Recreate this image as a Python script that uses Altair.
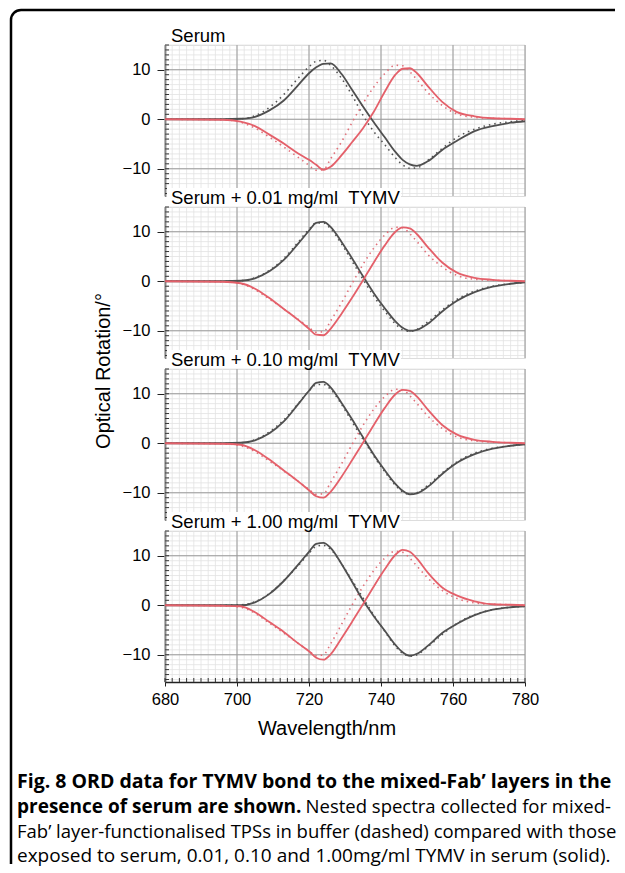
import math
import altair as alt
import pandas as pd

# ---------------- data ----------------
WL = [680, 696, 701, 705, 709, 713, 717, 720, 722, 724, 726, 729, 732, 735,
      738, 741, 744, 746, 748, 750, 753, 757, 761, 766, 771, 776, 780]

PANEL_TITLES = ["Serum",
                "Serum + 0.01 mg/ml\u00a0\u00a0TYMV",
                "Serum + 0.10 mg/ml\u00a0\u00a0TYMV",
                "Serum + 1.00 mg/ml\u00a0\u00a0TYMV"]

# panel 1 : Serum
P1_BLACK_SOLID = [0, 0, 0.1, 0.5, 1.8, 3.8, 6.9, 9.3, 10.5, 11.2, 11.3, 9.2, 5.9, 2.6,
                  -0.6, -3.6, -6.6, -8.2, -9.1, -9.4, -8.5, -6.2, -4.4, -2.4, -1.4, -0.7, -0.4]
P1_BLACK_DOT = [0, 0, 0.1, 0.7, 2.4, 5.0, 8.3, 10.6, 11.7, 11.9, 10.9, 8.3, 4.8, 0.8,
                -2.5, -5.1, -7.8, -9.2, -9.9, -9.8, -8.3, -5.9, -3.7, -2.0, -1.0, -0.5, -0.2]
P1_RED_SOLID = [0, -0.1, -0.5, -1.4, -3.1, -4.9, -6.9, -8.2, -9.2, -10.2, -9.6, -7.3, -4.6, -1.8,
                1.5, 5.5, 9.0, 10.2, 10.3, 9.3, 6.7, 3.5, 1.5, 0.6, 0.2, 0.1, 0]
P1_RED_DOT = [0, -0.1, -0.6, -1.8, -3.6, -5.6, -7.7, -9.3, -10.3, -10.2, -8.0, -4.6, -0.6, 3.2,
              6.5, 9.2, 10.9, 10.8, 9.6, 8.0, 5.4, 2.8, 1.1, 0.4, 0.2, 0.1, 0]

# panel 2 : Serum + 0.01 mg/ml TYMV
P2_BLACK_SOLID = [0, 0, 0.1, 0.6, 2.0, 4.3, 7.6, 10.2, 11.8, 12.0, 11.0, 8.0, 4.6, 1.0,
                  -2.4, -5.4, -8.1, -9.4, -10.0, -9.8, -8.6, -6.1, -4.0, -2.2, -1.1, -0.5, -0.2]
P2_BLACK_DOT = [0, 0, 0.1, 0.7, 2.2, 4.6, 7.9, 10.5, 11.8, 11.8, 10.6, 7.6, 4.0, 0.4,
                -3.0, -6.0, -8.6, -9.8, -10.1, -9.7, -8.2, -5.8, -3.7, -2.0, -1.0, -0.5, -0.2]
P2_RED_SOLID = [0, -0.1, -0.4, -1.5, -3.4, -5.6, -7.8, -9.6, -10.8, -10.9, -9.6, -6.6, -3.3, 0.2,
                3.8, 7.2, 10.0, 10.9, 10.7, 9.5, 6.9, 3.8, 1.8, 0.7, 0.3, 0.1, 0]
P2_RED_DOT = [0, -0.1, -0.5, -1.7, -3.6, -5.6, -7.7, -9.3, -10.3, -10.2, -8.0, -4.4, -0.4, 3.4,
              6.7, 9.3, 10.9, 10.8, 9.6, 8.0, 5.4, 2.9, 1.2, 0.4, 0.2, 0.1, 0]

# panel 3 : Serum + 0.10 mg/ml TYMV
P3_BLACK_SOLID = [0, 0, 0.1, 0.6, 2.0, 4.4, 7.9, 10.6, 12.2, 12.4, 11.3, 8.2, 4.8, 1.2,
                  -2.3, -5.4, -8.2, -9.6, -10.3, -10.1, -8.8, -6.2, -4.0, -2.2, -1.1, -0.5, -0.2]
P3_BLACK_DOT = [0, 0, 0.1, 0.7, 2.3, 4.7, 8.0, 10.6, 11.8, 11.9, 10.9, 7.9, 4.3, 0.8,
                -2.6, -5.7, -8.5, -9.8, -10.3, -10.0, -8.5, -6.0, -3.8, -2.0, -1.0, -0.5, -0.2]
P3_RED_SOLID = [0, -0.1, -0.3, -1.4, -3.3, -5.5, -7.7, -9.5, -10.7, -11.0, -9.8, -6.8, -3.4, 0.1,
                3.7, 7.1, 9.9, 10.8, 10.6, 9.4, 6.8, 3.7, 1.8, 0.7, 0.3, 0.1, 0]
P3_RED_DOT = [0, -0.1, -0.5, -1.7, -3.6, -5.6, -7.7, -9.3, -10.3, -10.2, -7.9, -4.2, -0.2, 3.6,
              6.9, 9.4, 10.9, 10.8, 9.6, 8.0, 5.5, 3.0, 1.3, 0.5, 0.2, 0.1, 0]

# panel 4 : Serum + 1.00 mg/ml TYMV
P4_BLACK_SOLID = [0, 0, 0.0, 0.6, 2.3, 4.9, 8.2, 10.8, 12.4, 12.6, 11.6, 8.4, 4.7, 1.0,
                  -2.2, -5.1, -8.0, -9.5, -10.2, -9.8, -8.2, -5.6, -3.8, -2.0, -0.9, -0.4, -0.2]
P4_BLACK_DOT = [0, 0, 0.1, 0.7, 2.4, 5.0, 8.0, 10.5, 11.9, 12.1, 11.3, 8.4, 5.0, 1.5,
                -2.0, -5.2, -8.3, -9.7, -10.3, -10.0, -8.4, -5.9, -3.7, -1.9, -0.9, -0.4, -0.2]
P4_RED_SOLID = [0, -0.1, -0.2, -1.4, -3.4, -5.4, -7.7, -9.3, -10.6, -11.0, -9.9, -6.7, -3.3, 0.2,
                3.8, 7.2, 10.2, 11.2, 10.8, 9.4, 6.6, 3.6, 2.0, 0.8, 0.2, 0.1, 0]
P4_RED_DOT = [0, -0.1, -0.4, -1.6, -3.6, -5.6, -7.7, -9.2, -10.2, -10.0, -7.8, -3.9, 0.1, 3.8,
              7.0, 9.5, 10.9, 10.7, 9.5, 7.9, 5.5, 3.0, 1.4, 0.5, 0.2, 0.1, 0]

SERIES = {
    0: {"black_dot": P1_BLACK_DOT, "red_dot": P1_RED_DOT, "black": P1_BLACK_SOLID, "red": P1_RED_SOLID},
    1: {"black_dot": P2_BLACK_DOT, "red_dot": P2_RED_DOT, "black": P2_BLACK_SOLID, "red": P2_RED_SOLID},
    2: {"black_dot": P3_BLACK_DOT, "red_dot": P3_RED_DOT, "black": P3_BLACK_SOLID, "red": P3_RED_SOLID},
    3: {"black_dot": P4_BLACK_DOT, "red_dot": P4_RED_DOT, "black": P4_BLACK_SOLID, "red": P4_RED_SOLID},
}

X_MAJOR = [680, 700, 720, 740, 760, 780]
X_MINOR = list(range(680, 781, 2))
Y_MAJOR = [-10, 0, 10]
Y_MINOR = list(range(-15, 16, 1))

X_TITLE = "Wavelength/nm"
Y_TITLE = "Optical Rotation/°"

CAPTION_1 = "Fig. 8 ORD data for TYMV bond to the mixed-Fab\u2019 layers in the"
CAPTION_2B = "presence of serum are shown."
CAPTION_2R = "Nested spectra collected for mixed-"
CAPTION_3 = "Fab\u2019 layer-functionalised TPSs in buffer (dashed) compared with those"
CAPTION_4 = "exposed to serum, 0.01, 0.10 and 1.00mg/ml TYMV in serum (solid)."

# ---------------- style ----------------
W, H = 360, 151
FONT = "Liberation Sans"
CAP_FONT = "Open Sans"
STYLE = {
    "black_dot": dict(color="#555555", strokeWidth=1.6, strokeDash=[1.5, 4]),
    "red_dot": dict(color="#e0707a", strokeWidth=1.6, strokeDash=[1.5, 4]),
    "black": dict(color="#4f4f4f", strokeWidth=1.8),
    "red": dict(color="#e4606a", strokeWidth=1.8),
}

xs = alt.Scale(domain=[680, 780], nice=False, zero=False)
ys = alt.Scale(domain=[-15.5, 15], nice=False, zero=False)

one = pd.DataFrame({"k": [0]})


def x_axis(bottom):
    return alt.Axis(values=X_MAJOR, title=None, grid=False, labels=bottom, ticks=bottom,
                    domain=bottom, tickSize=4, labelPadding=5, labelFontSize=16.5,
                    labelFont=FONT, labelColor="black", domainColor="#222222",
                    tickColor="#222222", domainWidth=1.5, labelFlush=False)


def y_axis():
    return alt.Axis(values=Y_MAJOR, title=None, grid=False, tickSize=8, labelPadding=7,
                    labelFontSize=16.5, labelFont=FONT, labelColor="black",
                    domainColor="#222222", tickColor="#222222", domainWidth=1.5,
                    labelExpr="datum.value < 0 ? '\u2212' + abs(datum.value) : datum.label")


def text_layer(txt, x, y, size, weight="normal", align="left", angle=0, font=FONT):
    return alt.Chart(pd.DataFrame({"t": [txt]})).mark_text(
        align=align, baseline="middle", fontSize=size, fontWeight=weight,
        font=font, angle=angle, color="black"
    ).encode(text="t:N", x=alt.value(x), y=alt.value(y))


def make_panel(i):
    bottom = i == 3
    XA = x_axis(bottom)
    YA = y_axis()
    layers = []
    # grid
    layers.append(alt.Chart(pd.DataFrame({"v": X_MINOR})).mark_rule(color="#e2e2e2", strokeWidth=0.8)
                  .encode(x=alt.X("v:Q", scale=xs, axis=XA)))
    layers.append(alt.Chart(pd.DataFrame({"v": Y_MINOR})).mark_rule(color="#e2e2e2", strokeWidth=0.8)
                  .encode(y=alt.Y("v:Q", scale=ys, axis=YA)))
    layers.append(alt.Chart(pd.DataFrame({"v": X_MAJOR})).mark_rule(color="#9a9a9a", strokeWidth=1)
                  .encode(x=alt.X("v:Q", scale=xs, axis=XA)))
    layers.append(alt.Chart(pd.DataFrame({"v": Y_MAJOR})).mark_rule(color="#9a9a9a", strokeWidth=1)
                  .encode(y=alt.Y("v:Q", scale=ys, axis=YA)))
    # inner minor ticks
    layers.append(alt.Chart(pd.DataFrame({"v": Y_MINOR})).mark_rule(color="#333333", strokeWidth=1)
                  .encode(y=alt.Y("v:Q", scale=ys, axis=YA), x=alt.value(0), x2=alt.value(4)))
    if bottom:
        layers.append(alt.Chart(pd.DataFrame({"v": X_MINOR})).mark_rule(color="#333333", strokeWidth=1)
                      .encode(x=alt.X("v:Q", scale=xs, axis=XA), y=alt.value(H - 4), y2=alt.value(H)))
    # curves
    for key in ["black_dot", "red_dot", "black", "red"]:
        d = pd.DataFrame({"wl": WL, "val": SERIES[i][key]})
        layers.append(alt.Chart(d).mark_line(interpolate="monotone", **STYLE[key]).encode(
            x=alt.X("wl:Q", scale=xs, axis=XA),
            y=alt.Y("val:Q", scale=ys, axis=YA)))
    # panel title with white backing
    tw = 58 if i == 0 else 236
    layers.append(alt.Chart(one).mark_rect(color="white").encode(
        x=alt.value(2), x2=alt.value(tw), y=alt.value(-19), y2=alt.value(-1)))
    layers.append(text_layer(PANEL_TITLES[i], 6, -9.5, 18.5))

    if i == 0:
        # figure border (rounded upper-left corner)
        layers.append(alt.Chart(one).mark_rule(color="black", strokeWidth=2.5).encode(
            x=alt.value(-144), x2=alt.value(450), y=alt.value(-35)))
        layers.append(alt.Chart(one).mark_rule(color="black", strokeWidth=2.5).encode(
            x=alt.value(-154), y=alt.value(-25), y2=alt.value(819)))
        layers.append(alt.Chart(one).mark_arc(color="black", radius=11.25, radius2=8.75,
                                              theta=3 * math.pi / 2, theta2=2 * math.pi).encode(
            x=alt.value(-144), y=alt.value(-25)))
    if i == 1:
        layers.append(text_layer(Y_TITLE, -61, 164, 20, align="center", angle=270))
    if bottom:
        layers.append(text_layer(X_TITLE, 162, 198, 20, align="center"))
        layers.append(text_layer(CAPTION_1, -148, 251, 19.5, weight="bold", font=CAP_FONT))
        layers.append(text_layer(CAPTION_2B, -148, 276, 19, weight="bold", font=CAP_FONT))
        layers.append(text_layer(CAPTION_2R, 446, 276, 18.5, align="right", font=CAP_FONT))
        layers.append(text_layer(CAPTION_3, -148, 301, 18.5, font=CAP_FONT))
        layers.append(text_layer(CAPTION_4, -148, 325, 19, font=CAP_FONT))

    return alt.layer(*layers).properties(width=W, height=H)


chart = alt.vconcat(*[make_panel(i) for i in range(4)], spacing=11, bounds="flush").properties(
    padding={"left": 1, "top": 0, "right": 0, "bottom": 0}
).configure_view(stroke="#b0b0b0").configure(font=FONT)

chart.save("out.html", embed_options={"renderer": "svg", "actions": False})
